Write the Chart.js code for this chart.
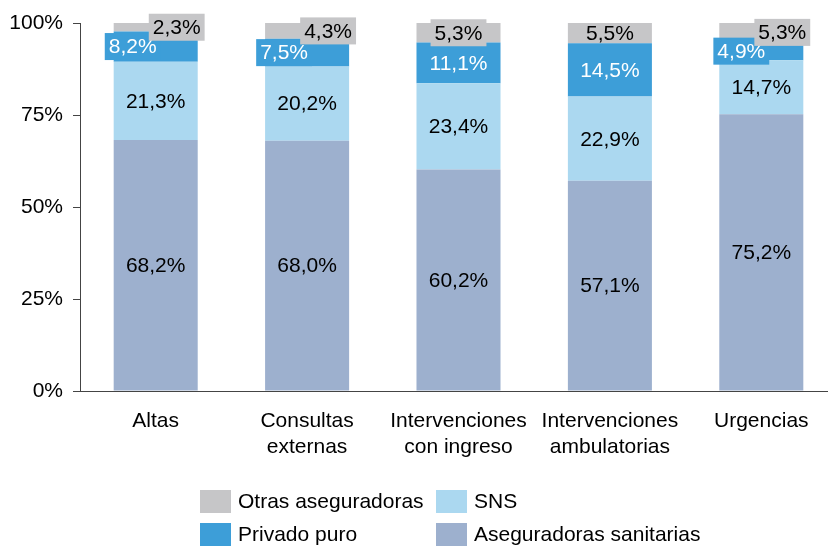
<!DOCTYPE html>
<html>
<head>
<meta charset="utf-8">
<style type="text/css">
  html, body { margin: 0; padding: 0; background: #fff; overflow: hidden; }
  #wrap { width: 828px; height: 546px; overflow: hidden; }
  canvas { display: block; }
</style>
</head>
<body>
<div id="wrap">
  <canvas id="myChart" width="837" height="546"></canvas>
</div>
<script src="https://cdn.jsdelivr.net/npm/chart.js@4/dist/chart.umd.min.js"></script>
<script>
// categories (x axis)
var categories = [
  ['Altas'],
  ['Consultas', 'externas'],
  ['Intervenciones', 'con ingreso'],
  ['Intervenciones', 'ambulatorias'],
  ['Urgencias']
];
// shares per category, in %
var aseguradoras = [68.2, 68.0, 60.2, 57.1, 75.2];
var sns          = [21.3, 20.2, 23.4, 22.9, 14.7];
var privado      = [8.2, 7.5, 11.1, 14.5, 4.9];
var otras        = [2.3, 4.3, 5.3, 5.5, 5.3];
var yTicks = [0, 25, 50, 75, 100];

var FONT = '"Liberation Sans", Arial, sans-serif';
var FSIZE = 21;

// label boxes for the thin segments: horizontal shift and whether a box is drawn
var labelStyle = {
  'Privado puro':       { color: '#ffffff', dx: [-23, -23, 0, 0, -20], box: [true, true, false, false, true] },
  'Otras aseguradoras': { color: '#000000', dx: [21, 21, 0, 0, 21],    box: [true, true, true, false, true] }
};

function pct(v) {
  return v.toFixed(1).replace('.', ',') + '%';
}

var segmentLabels = {
  id: 'segmentLabels',
  afterDatasetsDraw: function(chart) {
    var ctx = chart.ctx;
    ctx.save();
    ctx.font = FSIZE + 'px ' + FONT;
    ctx.textAlign = 'center';
    ctx.textBaseline = 'middle';
    chart.data.datasets.forEach(function(ds, di) {
      var meta = chart.getDatasetMeta(di);
      var st = labelStyle[ds.label];
      meta.data.forEach(function(bar, i) {
        var txt = pct(ds.data[i]);
        var x = bar.x + (st ? st.dx[i] : 0);
        var y = (bar.y + bar.base) / 2;
        if (st && st.box[i]) {
          var w = ctx.measureText(txt).width + 8;
          ctx.fillStyle = ds.backgroundColor;
          ctx.fillRect(x - w / 2, y - 13.5, w, 27);
        }
        ctx.fillStyle = st ? st.color : '#000000';
        ctx.fillText(txt, x, y + 1);
      });
    });
    ctx.restore();
  }
};

// legend in two columns, two rows
var boxLegend = {
  id: 'boxLegend',
  afterDraw: function(chart) {
    var ctx = chart.ctx;
    var order = ['Otras aseguradoras', 'SNS', 'Privado puro', 'Aseguradoras sanitarias'];
    var cols = [200, 436];
    var rows = [490, 523];
    ctx.save();
    ctx.font = FSIZE + 'px ' + FONT;
    ctx.textBaseline = 'middle';
    ctx.textAlign = 'left';
    order.forEach(function(name, k) {
      var ds = chart.data.datasets.find(function(d) { return d.label === name; });
      var x = cols[k % 2], y = rows[Math.floor(k / 2)];
      ctx.fillStyle = ds.backgroundColor;
      ctx.fillRect(x, y, 31, 23);
      ctx.fillStyle = '#000';
      ctx.fillText(name, x + 38, y + 12);
    });
    ctx.restore();
  }
};

var ctx = document.getElementById('myChart').getContext('2d');
var myChart = new Chart(ctx, {
  type: 'bar',
  data: {
    labels: categories,
    datasets: [
      { label: 'Aseguradoras sanitarias', data: aseguradoras, backgroundColor: '#9db0ce' },
      { label: 'SNS', data: sns, backgroundColor: '#abd8f0' },
      { label: 'Privado puro', data: privado, backgroundColor: '#3d9ed8' },
      { label: 'Otras aseguradoras', data: otras, backgroundColor: '#c6c6c8' }
    ]
  },
  options: {
    responsive: false,
    animation: false,
    layout: { padding: { top: 23, left: 0, right: 0, bottom: 0 } },
    datasets: { bar: { barPercentage: 0.555, categoryPercentage: 1.0, borderWidth: 0 } },
    plugins: {
      legend: { display: false },
      tooltip: { enabled: false }
    },
    scales: {
      x: {
        stacked: true,
        grid: { display: false, drawTicks: false },
        border: { display: true, color: '#444', width: 1 },
        ticks: { color: '#000', padding: 17, font: { family: FONT, size: FSIZE, lineHeight: 1.24 }, maxRotation: 0, autoSkip: false },
        afterFit: function(scale) { scale.height = 155; }
      },
      y: {
        stacked: true,
        min: 0,
        max: 100,
        afterBuildTicks: function(scale) {
          scale.ticks = yTicks.map(function(v) { return { value: v }; });
        },
        grid: { drawOnChartArea: false, drawTicks: true, tickLength: 7, color: '#444' },
        border: { display: true, color: '#444', width: 1 },
        ticks: {
          color: '#000', padding: 10, font: { family: FONT, size: FSIZE },
          callback: function(v) { return v + '%'; }
        },
        afterFit: function(scale) { scale.width = 80; }
      }
    }
  },
  plugins: [segmentLabels, boxLegend]
});
</script>
</body>
</html>
